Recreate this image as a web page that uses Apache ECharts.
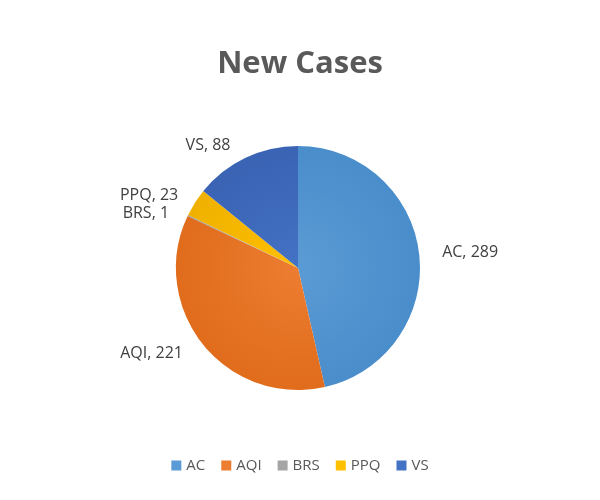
<!DOCTYPE html>
<html><head><meta charset="utf-8">
<script src="https://cdn.jsdelivr.net/npm/echarts@6/dist/echarts.min.js"></script>
<style>html,body{margin:0;background:#fff}#c{width:600px;height:500px}</style>
</head><body><div id="c"></div>
<script>
const categories = ["AC","AQI","BRS","PPQ","VS"];
const values = [289,221,1,23,88];
const colors = ["#5B9BD5","#ED7D31","#A5A5A5","#FFC000","#4472C4"];
const darks = ["#4A8DCB","#E06C1C","#979797","#F0B000","#3A63B4"];
function grad(i){return {type:'radial',x:298,y:268,r:122,global:true,colorStops:[{offset:0,color:colors[i]},{offset:1,color:darks[i]}]};}
const chart = echarts.init(document.getElementById('c'));
chart.setOption({
  backgroundColor:'#fff',
  title:{text:'New Cases',left:'center',top:44,textStyle:{fontFamily:'Open Sans',fontSize:31,fontWeight:'bold',color:'#595959'}},
  legend:{bottom:22,left:'center',itemWidth:10,itemHeight:10,itemGap:16,icon:'rect',
    textStyle:{fontFamily:'Open Sans',fontSize:15,color:'#595959'},data:categories.map((n,i)=>({name:n,itemStyle:{color:colors[i]}}))},
  series:[{type:'pie',center:[298,268],radius:122,startAngle:90,clockwise:true,
    data:categories.map((n,i)=>({name:n,value:values[i],itemStyle:{color:grad(i)}})),
    itemStyle:{borderWidth:0},
    label:{show:true,position:'outside',formatter:'{b}, {c}',fontFamily:'Open Sans',fontSize:16,color:'#404040'},
    labelLine:{show:false,length:14,length2:4},
    emphasis:{disabled:true}
  }]
});
</script></body></html>
